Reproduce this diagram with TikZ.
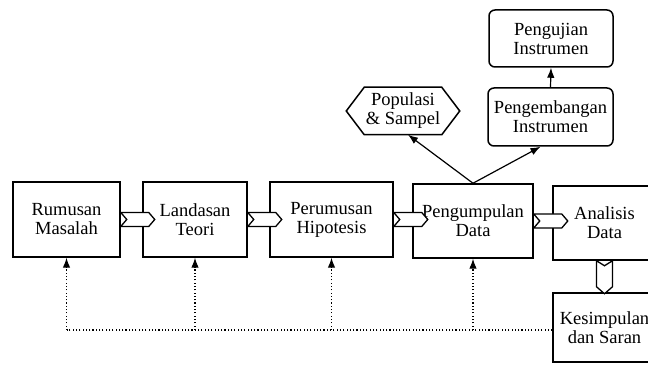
\documentclass[tikz,border=0pt]{standalone}
\usepackage{fontspec}
\setmainfont{Liberation Serif}
\usetikzlibrary{arrows.meta}
\begin{document}
\begin{tikzpicture}[x=1pt, y=1pt,
		box/.style={draw, line width=1.5pt, inner sep=0pt, align=center, font=\fontsize{18.5}{19}\selectfont},
		roundbox/.style={box, rounded corners=6pt},
		chevron/.style={draw, line width=1.3pt, fill=white, line join=miter},
		dots/.style={line width=1.1pt, dash pattern=on 1.1pt off 2.2pt},
		feedback/.style={dots, -{Latex[length=10pt, width=7.5pt]}},
		tip/.style={line width=1.2pt, -{Latex[length=10pt, width=7.5pt]}}]
		\clip (0, 0) rectangle (648, 369);

		\node[box, minimum width=107, minimum height=75] (rumusan) at (66.5, 149.5) {Rumusan\\Masalah};
		\node[box, minimum width=104, minimum height=75] (landasan) at (195, 149.5) {Landasan\\Teori};
		\node[box, minimum width=123, minimum height=75] (perumusan) at (331.5, 149.5) {Perumusan\\Hipotesis};
		\node[box, minimum width=120, minimum height=74] (pengumpulan) at (473, 148) {Pengumpulan\\Data};
		\node[box, minimum width=103, minimum height=74] (analisis) at (604.5, 146) {Analisis\\Data};
		\node[box, minimum width=103, minimum height=69] (kesimpulan) at (604.5, 41.5) {Kesimpulan\\dan Saran};

		\node[box, draw=none, minimum width=112, minimum height=46] (populasi) at (403, 258) {Populasi\\\& Sampel};
		\draw[line width=1.5pt] (populasi.west) -- ([xshift=18pt]populasi.north west) -- ([xshift=-18pt]populasi.north east)
			-- (populasi.east) -- ([xshift=-18pt]populasi.south east) -- ([xshift=18pt]populasi.south west) -- cycle;
		\node[roundbox, minimum width=125, minimum height=58] (pengembangan) at (550.5, 252) {Pengembangan\\Instrumen};
		\node[roundbox, minimum width=124, minimum height=57] (pengujian) at (551, 330.5) {Pengujian\\Instrumen};

		\foreach \a in {rumusan, landasan, perumusan, pengumpulan}
			\draw[chevron] ([yshift=7pt]\a.east) -- ++(28, 0) -- ++(6, -7) -- ++(-6, -7) -- ++(-28, 0) -- ++(6, 7) -- cycle;
		\draw[chevron] ([xshift=-8pt]analisis.south) -- ++(0, -26) -- ++(8, -7) -- ++(8, 7) -- ++(0, 26) -- ++(-8, -5) -- cycle;

		\draw[tip] (pengumpulan.north) -- ([xshift=5pt]populasi.south);
		\draw[tip] (pengumpulan.north) -- ([xshift=-10pt]pengembangan.south);
		\draw[tip] (pengembangan.north) -- (pengujian.south);

		\coordinate (fb) at (0, 39);
		\draw[dots] (kesimpulan.west |- fb) -- (rumusan |- fb);
		\foreach \b in {rumusan, landasan, perumusan, pengumpulan}
			\draw[feedback] (\b |- fb) -- (\b.south);
	\end{tikzpicture}
\end{document}
